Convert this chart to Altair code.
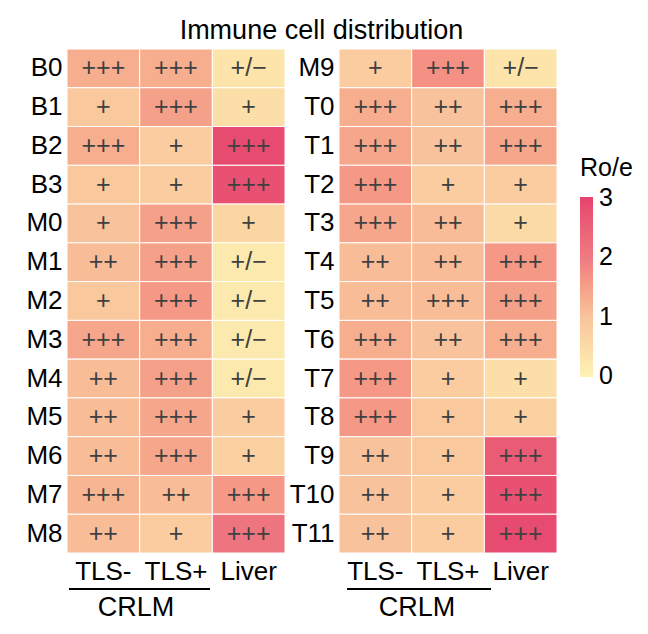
import altair as alt
import pandas as pd

cols = ["TLS-", "TLS+", "Liver"]

rows_left = ["B0", "B1", "B2", "B3", "M0", "M1", "M2", "M3", "M4", "M5", "M6", "M7", "M8"]
vals_left = [
    [1.3, 1.3, 0.3],
    [0.9, 1.5, 0.4],
    [1.3, 0.8, 2.9],
    [0.9, 0.8, 2.8],
    [1.0, 1.5, 0.6],
    [1.1, 1.5, 0.2],
    [0.9, 1.6, 0.2],
    [1.4, 1.3, 0.2],
    [1.1, 1.5, 0.2],
    [1.1, 1.4, 0.8],
    [1.1, 1.4, 0.7],
    [1.2, 1.1, 1.6],
    [1.1, 0.8, 2.1],
]
labels_left = [
    ["+++", "+++", "+/−"],
    ["+", "+++", "+"],
    ["+++", "+", "+++"],
    ["+", "+", "+++"],
    ["+", "+++", "+"],
    ["++", "+++", "+/−"],
    ["+", "+++", "+/−"],
    ["+++", "+++", "+/−"],
    ["++", "+++", "+/−"],
    ["++", "+++", "+"],
    ["++", "+++", "+"],
    ["+++", "++", "+++"],
    ["++", "+", "+++"],
]

rows_right = ["M9", "T0", "T1", "T2", "T3", "T4", "T5", "T6", "T7", "T8", "T9", "T10", "T11"]
vals_right = [
    [0.8, 1.7, 0.3],
    [1.3, 1.0, 1.3],
    [1.4, 1.0, 1.4],
    [1.6, 0.8, 0.8],
    [1.4, 1.1, 0.5],
    [1.1, 1.1, 1.6],
    [1.1, 1.1, 1.5],
    [1.3, 1.0, 1.3],
    [1.6, 0.8, 0.4],
    [1.6, 0.9, 0.7],
    [1.0, 0.9, 2.6],
    [1.0, 0.8, 2.8],
    [1.0, 0.8, 2.9],
]
labels_right = [
    ["+", "+++", "+/−"],
    ["+++", "++", "+++"],
    ["+++", "++", "+++"],
    ["+++", "+", "+"],
    ["+++", "++", "+"],
    ["++", "++", "+++"],
    ["++", "+++", "+++"],
    ["+++", "++", "+++"],
    ["+++", "+", "+"],
    ["+++", "+", "+"],
    ["++", "+", "+++"],
    ["++", "+", "+++"],
    ["++", "+", "+++"],
]

group_label = "CRLM"
legend_ticks = [0, 1, 2, 3]
FONT = "Liberation Sans"


def make_df(rows, vals, labs):
    recs = []
    for r, v, l in zip(rows, vals, labs):
        for c, vv, ll in zip(cols, v, l):
            recs.append({"row": r, "col": c, "value": vv, "label": ll})
    return pd.DataFrame(recs)


color = alt.Color(
    "value:Q",
    scale=alt.Scale(domain=[-0.02, 1, 2, 3.02],
                    range=["#fcf3b5", "#f8c39c", "#ef7a82", "#e6436e"]),
    legend=alt.Legend(
        title="Ro/e", orient="none", legendX=513, legendY=107,
        values=legend_ticks, gradientLength=180, gradientThickness=13,
        titleFontSize=25, titleFontWeight="normal", titleFont=FONT,
        labelFontSize=25, labelFont=FONT, labelColor="black", titleColor="black",
        labelOffset=6, titlePadding=16, gradientStrokeWidth=0,
        labelOverlap=False,
    ),
)


def panel(df, rows, lx1, lx2, tx):
    base = alt.Chart(df).encode(
        x=alt.X("col:N", sort=cols,
                axis=alt.Axis(title=None, orient="bottom", labelAngle=0,
                              labelFontSize=26, ticks=False, domain=False,
                              labelPadding=5, labelFont=FONT, labelColor="black")),
        y=alt.Y("row:N", sort=rows,
                axis=alt.Axis(title=None, labelFontSize=26, ticks=False,
                              domain=False, labelPadding=5, labelFont=FONT,
                              labelColor="black")),
    )
    rect = base.mark_rect(stroke="white", strokeWidth=1).encode(color=color)
    text = base.mark_text(fontSize=25, color="#404040", font=FONT).encode(text="label:N")
    one = alt.Data(values=[{"k": 1}])
    rule = alt.Chart(one).mark_rule(color="black", strokeWidth=2).encode(
        x=alt.value(lx1), x2=alt.value(lx2), y=alt.value(540))
    lab = alt.Chart(one).mark_text(text=group_label, fontSize=27, font=FONT,
                                   color="black", baseline="middle").encode(
        x=alt.value(tx), y=alt.value(559))
    return alt.layer(rect, text, rule, lab).properties(width=218, height=504)


left = panel(make_df(rows_left, vals_left, labels_left), rows_left, 2, 143, 69)
right = panel(make_df(rows_right, vals_right, labels_right), rows_right, 8, 152, 78)

chart = alt.hconcat(left, right, spacing=3).properties(
    title=alt.TitleParams("Immune cell distribution", fontSize=27, anchor="middle",
                          fontWeight="normal", font=FONT, color="black", offset=4, dx=-8),
    padding={"left": 17, "top": 8, "right": 5, "bottom": 5},
).configure_view(stroke=None)

chart.save("out.html", embed_options={"renderer": "svg", "actions": False})
